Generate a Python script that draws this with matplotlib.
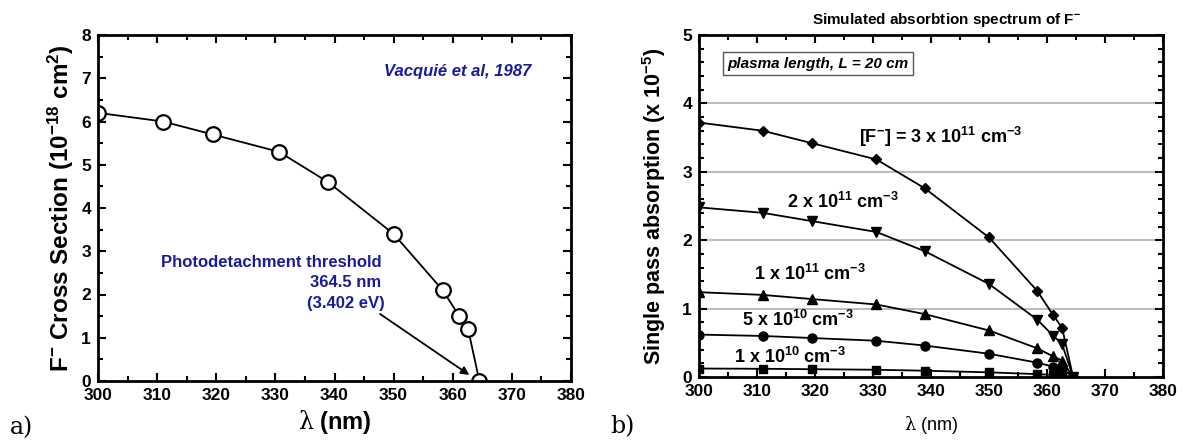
import matplotlib
matplotlib.use("Agg")
import matplotlib.pyplot as plt
from matplotlib.ticker import MultipleLocator

plt.rcParams['font.family'] = ['Liberation Sans', 'DejaVu Sans']
plt.rcParams['mathtext.fontset'] = 'custom'
plt.rcParams['mathtext.rm'] = 'Liberation Sans:bold'
plt.rcParams['mathtext.bf'] = 'Liberation Sans:bold'
plt.rcParams['mathtext.sf'] = 'DejaVu Serif'
plt.rcParams['mathtext.default'] = 'regular'

# longueurs d'onde (nm)
wl = [300, 311, 319.4, 330.6, 338.9, 350, 358.3, 361.1, 362.6, 364.5]
# section efficace (1e-18 cm2)
sigma = [6.2, 6.0, 5.7, 5.3, 4.6, 3.4, 2.1, 1.5, 1.2, 0.0]

# absorption simple passage (x 1e-5)
abs_3e11 = [3.72, 3.60, 3.42, 3.18, 2.76, 2.04, 1.26, 0.90, 0.72, 0.0]
abs_2e11 = [2.48, 2.40, 2.28, 2.12, 1.84, 1.36, 0.84, 0.60, 0.48, 0.0]
abs_1e11 = [1.24, 1.20, 1.14, 1.06, 0.92, 0.68, 0.42, 0.30, 0.24, 0.0]
abs_5e10 = [0.62, 0.60, 0.57, 0.53, 0.46, 0.34, 0.21, 0.15, 0.12, 0.0]
abs_1e10 = [0.124, 0.120, 0.114, 0.106, 0.092, 0.068, 0.042, 0.030, 0.024, 0.0]

series_b = [abs_3e11, abs_2e11, abs_1e11, abs_5e10, abs_1e10]
markers_b = ['D', 'v', '^', 'o', 's']
msizes_b = [5.5, 7, 7, 6.5, 6]
labels_b = [r'[F$^{-}$] = 3 x 10$^{11}$ cm$^{-3}$',
            r'2 x 10$^{11}$ cm$^{-3}$',
            r'1 x 10$^{11}$ cm$^{-3}$',
            r'5 x 10$^{10}$ cm$^{-3}$',
            r'1 x 10$^{10}$ cm$^{-3}$']
label_pos_b = [(327.5, 3.51), (315.2, 2.56), (309.4, 1.51), (307.4, 0.84), (306.1, 0.29)]

blue = '#1a1a9c'

fig = plt.figure(figsize=(11.85, 4.41), dpi=100)
ax1 = fig.add_axes([98/1185, 60/441, 473/1185, 346/441])
ax2 = fig.add_axes([699/1185, 64/441, 464/1185, 342/441])


def style_axes(ax, ymin, ymax, ymaj, ymin_step):
    ax.set_xlim(300, 380)
    ax.set_ylim(ymin, ymax)
    ax.xaxis.set_major_locator(MultipleLocator(10))
    ax.xaxis.set_minor_locator(MultipleLocator(5))
    ax.yaxis.set_major_locator(MultipleLocator(ymaj))
    ax.yaxis.set_minor_locator(MultipleLocator(ymin_step))
    ax.tick_params(which='both', direction='in', top=True, right=True, width=1.5)
    ax.tick_params(which='major', length=6, labelsize=12.5, pad=5)
    ax.tick_params(which='minor', length=3.5)
    for s in ax.spines.values():
        s.set_linewidth(2)
    for lab in ax.get_xticklabels() + ax.get_yticklabels():
        lab.set_fontweight('bold')


# a) section efficace
style_axes(ax1, 0, 8, 1, 0.5)
ax1.plot(wl, sigma, '-', color='black', lw=1.3, marker='o', ms=10.5,
         mfc='white', mec='black', mew=1.6)
ax1.set_xlabel(r'$\mathsf{\lambda}$ (nm)', fontsize=17, fontweight='bold', labelpad=4)
ax1.set_ylabel(r'F$^{-}$ Cross Section (10$^{-18}$ cm$^{2}$)', fontsize=17.5,
               fontweight='bold', labelpad=4)
ax1.text(360.8, 7.15, 'Vacquié et al, 1987', color=blue, fontsize=12,
         fontweight='bold', style='italic', ha='center', va='center')
ax1.text(310.7, 2.74, 'Photodetachment threshold', color=blue, fontsize=12,
         fontweight='bold', ha='left', va='center')
ax1.text(341.9, 2.27, '364.5 nm', color=blue, fontsize=12,
         fontweight='bold', ha='center', va='center')
ax1.text(341.9, 1.80, '(3.402 eV)', color=blue, fontsize=12,
         fontweight='bold', ha='center', va='center')
ax1.annotate('', xy=(362.8, 0.14), xytext=(347.7, 1.55),
             arrowprops=dict(arrowstyle='-|>', color='black', lw=1.3,
                             mutation_scale=12, shrinkA=0, shrinkB=0))

# b) absorption simulee
style_axes(ax2, 0, 5, 1, 0.2)
for yv in [1, 2, 3, 4]:
    ax2.axhline(yv, color='#a8a8a8', lw=1.1, zorder=0)
for vals, mk, ms in zip(series_b, markers_b, msizes_b):
    ax2.plot(wl, vals, '-', color='black', lw=1.3, marker=mk, ms=ms,
             mfc='black', mec='black')
for lab, (x, y) in zip(labels_b, label_pos_b):
    ax2.text(x, y, lab, fontsize=13, fontweight='bold', ha='left', va='center')
ax2.text(320.5, 4.58, 'plasma length, L = 20 cm', fontsize=11, fontweight='bold',
         style='italic', ha='center', va='center',
         bbox=dict(boxstyle='square,pad=0.3', fc='white', ec='#555555', lw=1))
ax2.set_xlabel(r'$\mathsf{\lambda}$ (nm)', fontsize=13, labelpad=11)
ax2.set_ylabel(r'Single pass absorption (x 10$^{-5}$)', fontsize=15.5,
               fontweight='bold', labelpad=10)
fig.text(946/1185, 1 - 20/441, r'Simulated absorbtion spectrum of F$^{-}$',
         fontsize=11, fontweight='bold', ha='center', va='center')

fig.text(10/1185, 1 - 428/441, 'a)', fontsize=17, family='DejaVu Serif',
         ha='left', va='center')
fig.text(610/1185, 1 - 427/441, 'b)', fontsize=17, family='DejaVu Serif',
         ha='left', va='center')

fig.savefig('out.png', dpi=100)
